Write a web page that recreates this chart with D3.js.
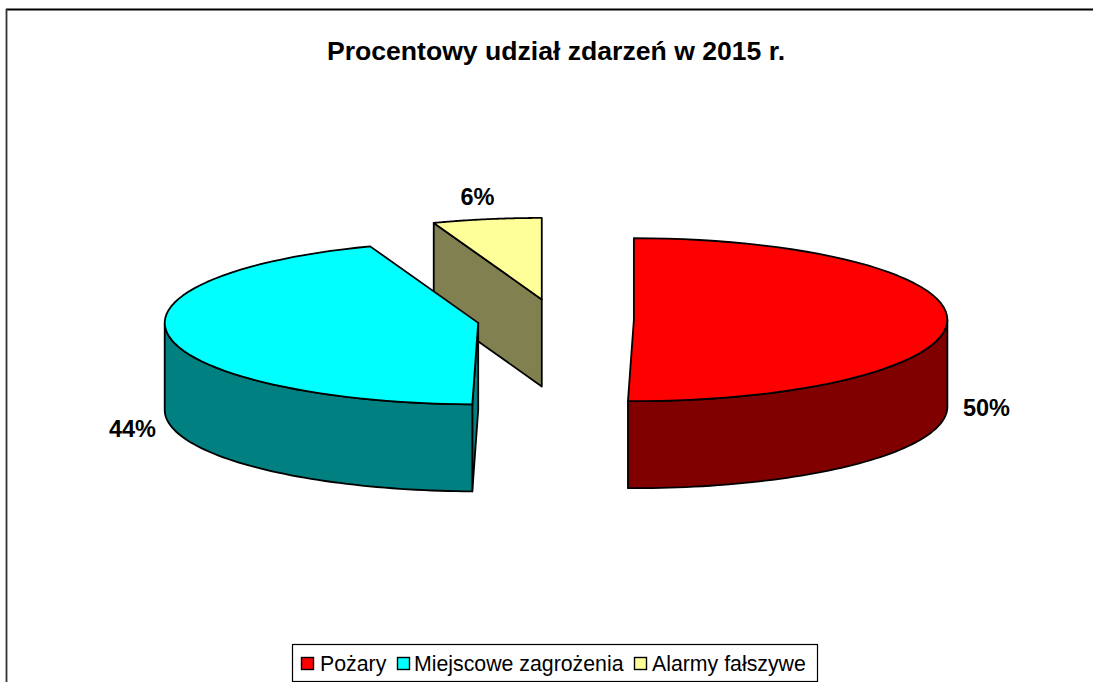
<!DOCTYPE html>
<html lang="pl"><head><meta charset="utf-8">
<script src="https://cdn.jsdelivr.net/npm/d3@7/dist/d3.min.js"></script>
<style>html,body{margin:0;padding:0;background:#fff;overflow:hidden}svg{display:block}text{font-family:"Liberation Sans",Arial,sans-serif;fill:#000}</style>
</head><body><svg id="c" width="1093" height="682"></svg>
<script>
const titleText = "Procentowy udział zdarzeń w 2015 r.";
const categories = ["Pożary", "Miejscowe zagrożenia", "Alarmy fałszywe"];
const values = [50.3, 44.1, 5.6];
const labels = ["50%", "44%", "6%"];
const topColors = ["#ff0000", "#00ffff", "#ffff99"];
const sideColors = ["#800000", "#008080", "#808050"];

const W = 1093, H = 682;
const svg = d3.select("#c");
const cx = 555.5, cy = 319.5, rx = 313.5, ry = 81.5, depth = 87, explode = 0.25;
const stroke = "#000", sw = 1.8;

// frame
svg.append("line").attr("x1",6).attr("x2",W).attr("y1",9.5).attr("y2",9.5).attr("stroke","#000").attr("stroke-width",1.8);
svg.append("line").attr("x1",6.5).attr("x2",6.5).attr("y1",9).attr("y2",H).attr("stroke","#333").attr("stroke-width",1.8);

svg.append("text").attr("x",556).attr("y",60).attr("text-anchor","middle")
  .attr("font-size",26.6).attr("font-weight","bold").text(titleText);

const arcs = d3.pie().sort(null).value(d => d)(values);
const line = d3.line();
const pt = (c, t, dz=0) => [c[0] + rx*Math.sin(t), c[1] - ry*Math.cos(t) + dz];
const sampled = (a, b) => d3.range(0, 61).map(i => a + (b-a)*i/60);

arcs.map((a,i) => ({a,i})).reverse().forEach(({a,i}) => {
  const mid = (a.startAngle + a.endAngle)/2;
  const c = [cx + explode*rx*Math.sin(mid), cy - explode*ry*Math.cos(mid)];
  const g = svg.append("g");
  const draw = (pts, fill) => g.append("path").attr("d", line(pts)+"Z").attr("fill",fill)
    .attr("stroke",stroke).attr("stroke-width",sw).attr("stroke-linejoin","round");
  // radial cut faces: only those turned toward the viewer
  [[a.startAngle, -Math.PI/2], [a.endAngle, Math.PI/2]].forEach(([t, turn]) => {
    if (Math.cos(t + turn) < -1e-6) draw([c, pt(c,t), pt(c,t,depth), [c[0], c[1]+depth]], sideColors[i]);
  });
  // front part of outer wall
  const s = Math.max(a.startAngle, Math.PI/2), e = Math.min(a.endAngle, 3*Math.PI/2);
  if (e > s) {
    const ts = sampled(s, e);
    draw(ts.map(t => pt(c,t)).concat(ts.slice().reverse().map(t => pt(c,t,depth))), sideColors[i]);
  }
  // top face
  draw([c].concat(sampled(a.startAngle, a.endAngle).map(t => pt(c,t))), topColors[i]);
});

// data labels
const labelPos = [[986.5,416],[132.5,437],[477.5,205]];
labels.forEach((l,i) => svg.append("text").attr("x",labelPos[i][0]).attr("y",labelPos[i][1])
  .attr("text-anchor","middle").attr("font-size",23.5).attr("font-weight","bold").text(l));

// legend
svg.append("rect").attr("x",292.5).attr("y",644.5).attr("width",525).attr("height",37)
  .attr("fill","#fff").attr("stroke","#000").attr("stroke-width",1.2);
const swX = [301,397,634], txX = [320,414,652];
categories.forEach((n,i) => {
  svg.append("rect").attr("x",swX[i]+.5).attr("y",657.5).attr("width",12).attr("height",12)
    .attr("fill",topColors[i]).attr("stroke","#000").attr("stroke-width",1.4);
  svg.append("text").attr("x",txX[i]).attr("y",671).attr("font-size",21.3).text(n);
});
</script></body></html>
